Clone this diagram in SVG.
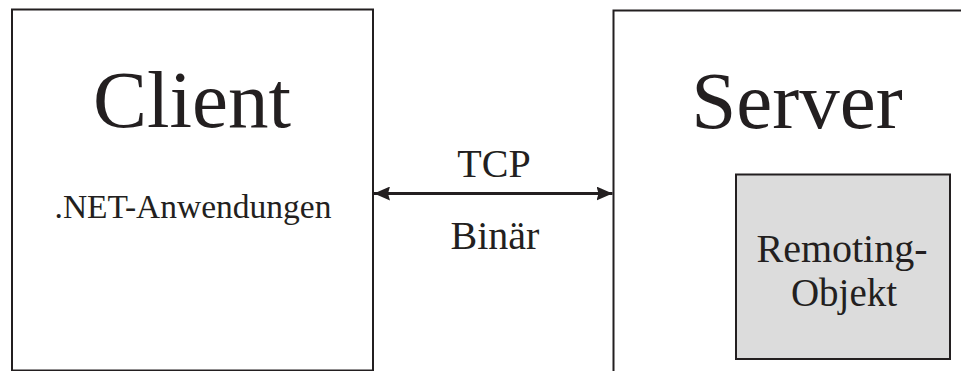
<svg xmlns="http://www.w3.org/2000/svg" width="961" height="371" viewBox="0 0 961 371">
  <style>
    .box { fill: #ffffff; stroke: #231f20; stroke-width: 2; }
    .inner { fill: #dcdcdc; stroke: #231f20; stroke-width: 2; }
    .lbl { fill: #231f20; text-anchor: middle; }
    .link { stroke: #231f20; stroke-width: 3; fill: none; }
  </style>
  <defs>
    <marker id="ah" viewBox="0 0 16 14" refX="16" refY="7" markerWidth="16" markerHeight="14" markerUnits="userSpaceOnUse" orient="auto-start-reverse">
      <path d="M0,0 L16,7 L0,14 L2,7 Z" fill="#231f20"/>
    </marker>
  </defs>

  <rect width="961" height="371" fill="#ffffff"/>

  <g font-family="Liberation Serif, Times New Roman, serif">
    <g id="client">
      <rect class="box" x="12" y="9.5" width="361" height="361"/>
      <text class="lbl" x="192" y="127" font-size="81">Client</text>
      <text class="lbl" x="193" y="218" font-size="33.5">.NET-Anwendungen</text>
    </g>

    <g id="server">
      <rect class="box" x="613.5" y="10.5" width="360" height="370"/>
      <text class="lbl" x="797" y="128" font-size="81">Server</text>
    </g>

    <g id="remoting-objekt">
      <rect class="inner" x="736" y="174.5" width="214" height="184.5"/>
      <text class="lbl" x="842" y="262" font-size="40">Remoting-</text>
      <text class="lbl" x="844" y="306" font-size="39">Objekt</text>
    </g>

    <g id="connectors">
      <line class="link" x1="374" y1="193.5" x2="612.5" y2="193.5" marker-start="url(#ah)" marker-end="url(#ah)"/>
      <text class="lbl" x="494" y="177" font-size="40">TCP</text>
      <text class="lbl" x="495" y="249" font-size="40">Binär</text>
    </g>
  </g>
</svg>
